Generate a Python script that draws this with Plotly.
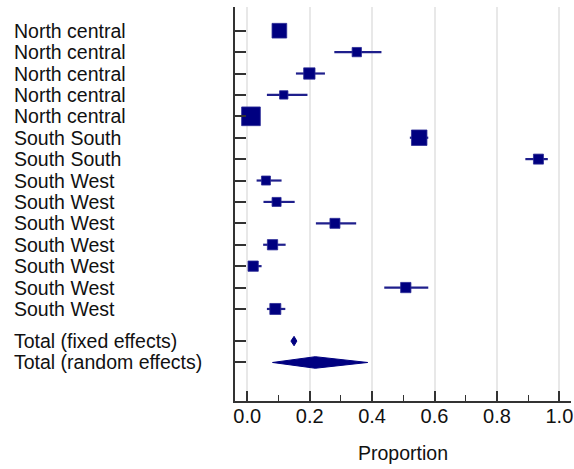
import plotly.graph_objects as go

# ---- data ----
study_labels = ["North central", "North central", "North central", "North central", "North central",
                "South South", "South South",
                "South West", "South West", "South West", "South West", "South West", "South West", "South West"]
proportion = [0.103, 0.351, 0.199, 0.117, 0.012, 0.551, 0.933, 0.060, 0.094, 0.281, 0.081, 0.019, 0.508, 0.090]
ci_low     = [0.085, 0.279, 0.156, 0.063, 0.004, 0.521, 0.891, 0.030, 0.052, 0.220, 0.051, 0.003, 0.439, 0.063]
ci_high    = [0.122, 0.430, 0.249, 0.193, 0.024, 0.580, 0.963, 0.110, 0.152, 0.349, 0.123, 0.046, 0.580, 0.122]
weight_pct = [11.4, 4.6, 6.8, 3.7, 18.5, 12.7, 5.3, 4.3, 4.3, 5.3, 5.6, 5.6, 5.6, 6.4]

total_labels = ["Total (fixed effects)", "Total (random effects)"]
total_est  = [0.150, 0.218]
total_low  = [0.140, 0.081]
total_high = [0.159, 0.386]

x_ticks = [0.0, 0.2, 0.4, 0.6, 0.8, 1.0]
x_title = "Proportion"

# ---- layout helpers ----
NAVY = "#000080"
FONT = "Liberation Sans, Arial, sans-serif"
study_y = list(range(1, len(study_labels) + 1))
total_y = [len(study_labels) + 1.5, len(study_labels) + 2.5]
sizes = [(18.9 * w) ** 0.5 for w in weight_pct]

fig = go.Figure()

fig.add_trace(go.Scatter(
    x=proportion, y=study_y, mode="markers",
    marker=dict(symbol="square", size=sizes, color=NAVY, opacity=1,
                line=dict(width=0.8, color="#2a2a95")),
    error_x=dict(type="data", symmetric=False,
                 array=[h - p for h, p in zip(ci_high, proportion)],
                 arrayminus=[p - l for p, l in zip(proportion, ci_low)],
                 width=0, thickness=2.2, color="#1f1f8c"),
    hoverinfo="skip", showlegend=False,
))

half_h = [0.22, 0.27]
for est, lo, hi, yy, hh in zip(total_est, total_low, total_high, total_y, half_h):
    fig.add_trace(go.Scatter(
        x=[lo, est, hi, est, lo], y=[yy, yy - hh, yy, yy + hh, yy],
        mode="lines", fill="toself", fillcolor=NAVY,
        line=dict(color=NAVY, width=1), hoverinfo="skip", showlegend=False,
    ))

all_labels = study_labels + total_labels
all_y = study_y + total_y

L, R, T, B = 235, 1.3, 7, 68
W = 574 - L - R
for lab, yy in zip(all_labels, all_y):
    fig.add_annotation(
        x=(11 - L) / W, xref="paper", y=yy, yref="y",
        text=lab, showarrow=False, xanchor="left", yanchor="middle",
        font=dict(family=FONT, size=19.5, color="#111111"),
    )

fig.update_layout(
    width=574, height=469,
    margin=dict(l=L, r=R, t=T, b=B, pad=0),
    paper_bgcolor="white", plot_bgcolor="white",
    font=dict(family=FONT, color="#111111"),
    xaxis=dict(
        range=[-0.0392, 1.0373], tickvals=x_ticks,
        ticktext=[f"{v:.1f}" for v in x_ticks],
        tickfont=dict(size=20, family=FONT, color="#111111"),
        ticklabeloverflow="allow", ticklabelstandoff=-4,
        ticks="inside", ticklen=10, tickwidth=1.6, tickcolor="#333333",
        minor=dict(ticks="inside", ticklen=6, tickwidth=1.4, tickcolor="#333333",
                   tick0=0.1, dtick=0.2, showgrid=False),
        showgrid=True, gridcolor="#e8e8e8", gridwidth=1.5,
        showline=True, linecolor="#333333", linewidth=2,
        zeroline=False,
        title=dict(text=x_title, font=dict(size=19.5, family=FONT, color="#111111"), standoff=20),
    ),
    yaxis=dict(
        range=[18.30, -0.107], tickvals=all_y, showticklabels=False,
        ticks="inside", ticklen=11, tickwidth=2, tickcolor="#333333",
        showgrid=False, zeroline=False,
        showline=True, linecolor="#333333", linewidth=2,
    ),
)

fig.write_html("out.html")
